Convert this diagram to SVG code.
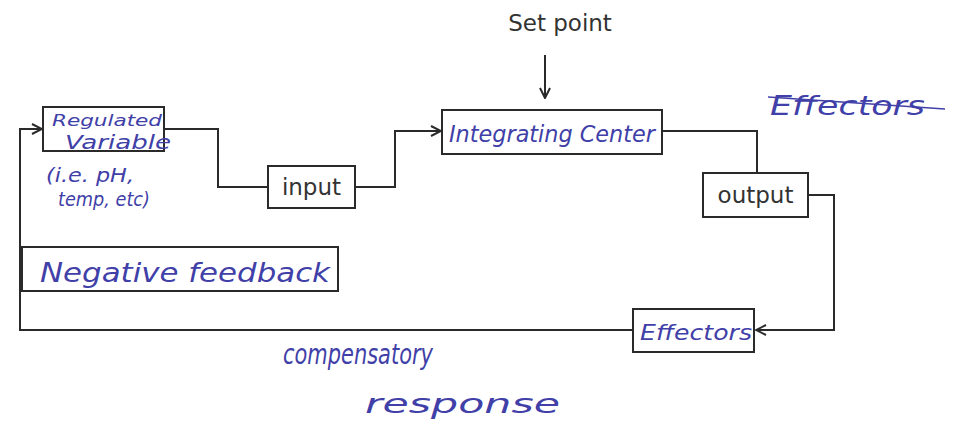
<svg xmlns="http://www.w3.org/2000/svg" width="967" height="434" viewBox="0 0 967 434">
<style>
.box{fill:#fff;stroke:#2a2a2a;stroke-width:2}
.ln{fill:none;stroke:#2a2a2a;stroke-width:2}
.pr{font-family:"DejaVu Sans",sans-serif;font-size:23px;fill:#333}
.hw{font-family:"DejaVu Sans","Liberation Sans",sans-serif;font-style:italic;fill:#4040a8}
</style>
<defs>
<marker id="ah" viewBox="0 0 12 12" refX="11" refY="6" markerWidth="12" markerHeight="12" markerUnits="userSpaceOnUse" orient="auto">
<path d="M1,1 L11,6 L1,11" fill="none" stroke="#2a2a2a" stroke-width="2"/>
</marker>
</defs>
<rect width="967" height="434" fill="#fff"/>
<g id="connectors">
<path class="ln" d="M165,129 H218 V187 H268"/>
<path class="ln" d="M355,187 H395 V131 H441" marker-end="url(#ah)"/>
<path class="ln" d="M545,55 V98" marker-end="url(#ah)"/>
<path class="ln" d="M662,131 H757 V173"/>
<path class="ln" d="M808,195 H834 V330 H756" marker-end="url(#ah)"/>
<path class="ln" d="M633,330 H20 V129 H42" marker-end="url(#ah)"/>
</g>
<g id="setpoint"><text class="pr" x="560" y="31" text-anchor="middle" font-size="25">Set point</text></g>
<g id="regulated">
<rect class="box" x="43" y="107" width="121" height="44"/>
<text class="hw" x="52" y="126" font-size="16" textLength="110" lengthAdjust="spacingAndGlyphs">Regulated</text>
<text class="hw" x="65" y="149" font-size="19" textLength="106" lengthAdjust="spacingAndGlyphs">Variable</text>
<text class="hw" x="46" y="182" font-size="19" textLength="88" lengthAdjust="spacingAndGlyphs">(i.e. pH,</text>
<text class="hw" x="58" y="206" font-size="19" textLength="92" lengthAdjust="spacingAndGlyphs">temp, etc)</text>
</g>
<g id="input"><rect class="box" x="268" y="166" width="87" height="42"/><text class="pr" x="311.5" y="195" text-anchor="middle">input</text></g>
<g id="integrating"><rect class="box" x="442" y="110" width="220" height="44"/><text class="hw" x="449" y="142" font-size="23" textLength="206" lengthAdjust="spacingAndGlyphs">Integrating Center</text></g>
<g id="output"><rect class="box" x="703" y="173" width="105" height="44"/><text class="pr" x="755.5" y="203" text-anchor="middle">output</text></g>
<g id="effectors"><rect class="box" x="633" y="309" width="121" height="43"/><text class="hw" x="640" y="340" font-size="22" textLength="112" lengthAdjust="spacingAndGlyphs">Effectors</text></g>
<g id="negfeedback"><rect class="box" x="22" y="247" width="316" height="44"/><text class="hw" x="40" y="282" font-size="27" textLength="290" lengthAdjust="spacingAndGlyphs">Negative feedback</text></g>
<g id="struck"><text class="hw" x="770" y="115" font-size="26" textLength="155" lengthAdjust="spacingAndGlyphs">Effectors</text><path d="M768,97 L945,109" stroke="#4040a8" stroke-width="1.5" fill="none"/></g>
<g id="compensatory"><text class="hw" x="283" y="364" font-size="29" textLength="150" lengthAdjust="spacingAndGlyphs">compensatory</text><text class="hw" x="365" y="413" font-size="26" textLength="195" lengthAdjust="spacingAndGlyphs">response</text></g>
</svg>
